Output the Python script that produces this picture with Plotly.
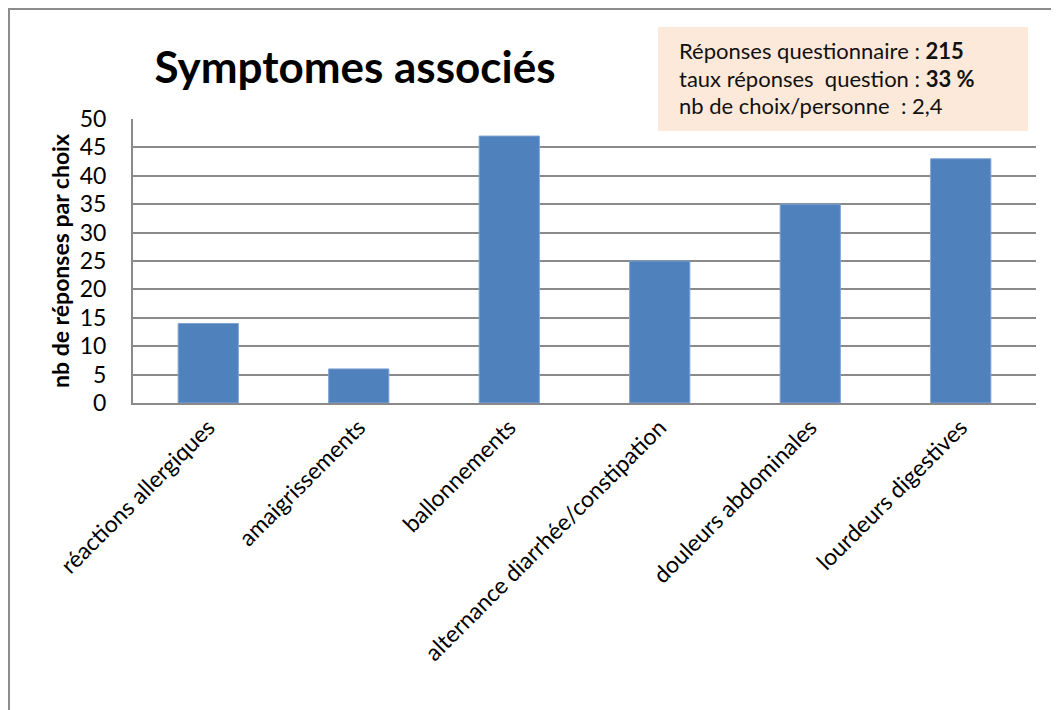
import plotly.graph_objects as go

# data
categories = [
    "réactions allergiques",
    "amaigrissements",
    "ballonnements",
    "alternance diarrhée/constipation",
    "douleurs abdominales",
    "lourdeurs digestives",
]
counts = [14, 6, 47, 25, 35, 43]
y_ticks = list(range(0, 51, 5))
info_lines = [
    "Réponses questionnaire : <b>215</b>",
    "taux réponses  question : <b>33 %</b>",
    "nb de choix/personne  : 2,4",
]

# the html page adds an 8px body margin, so work in page pixels minus 8
OFF = 8
W, H = 1051, 702
L, R, T, B = 133 - OFF, 23, 119 - OFF, 307
pw, ph = W - L - R, H - T - B


def px_x(x):
    return (x - OFF - L) / pw


def px_y(y):
    return (H - B - (y - OFF)) / ph


FONT = "Lato, Open Sans, sans-serif"
GRID = "#8a8a8a"

fig = go.Figure()
fig.add_trace(go.Bar(
    x=categories,
    y=counts,
    marker=dict(color="#4F81BD", line=dict(color="#7ea3d4", width=1)),
))

# outer chart frame (only top/left visible in the image)
fig.add_shape(type="rect", xref="paper", yref="paper",
              x0=px_x(OFF + 1), x1=px_x(1100), y0=px_y(760), y1=px_y(OFF + 1),
              line=dict(color="#8c8c8c", width=2), fillcolor="rgba(0,0,0,0)", layer="below")

# info box
fig.add_shape(type="rect", xref="paper", yref="paper",
              x0=px_x(658), x1=px_x(1028), y0=px_y(131), y1=px_y(27),
              line=dict(width=0), fillcolor="#FDE9DA", layer="above")
for i, line in enumerate(info_lines):
    fig.add_annotation(
        text=line, xref="paper", yref="paper",
        x=px_x(677), y=px_y(50 + 28 * i),
        xanchor="left", yanchor="middle", showarrow=False,
        font=dict(family=FONT, size=22, color="#111"),
    )

fig.update_layout(
    width=W, height=H,
    margin=dict(l=L, r=R, t=T, b=B),
    paper_bgcolor="white", plot_bgcolor="white",
    font=dict(family=FONT, color="black"),
    showlegend=False,
    bargap=0.6,
    title=dict(text="<b>Symptomes associés</b>", x=(355 - OFF) / W, xanchor="center",
               y=1 - (68 - OFF) / H, yanchor="middle", font=dict(size=44, family=FONT)),
)
fig.update_xaxes(
    tickangle=-45, tickfont=dict(size=23), showline=True, linecolor=GRID, linewidth=2,
    ticks="", showgrid=False,
)
fig.update_yaxes(
    range=[0, 50], tickvals=y_ticks, tickfont=dict(size=23),
    showgrid=True, gridcolor=GRID, gridwidth=1.5,
    showline=True, linecolor=GRID, linewidth=2, zeroline=False,
    ticks="", ticklabelstandoff=20,
    title=dict(text="<b>nb de réponses par choix</b>", font=dict(size=23), standoff=4),
)

fig.write_html("out.html")
